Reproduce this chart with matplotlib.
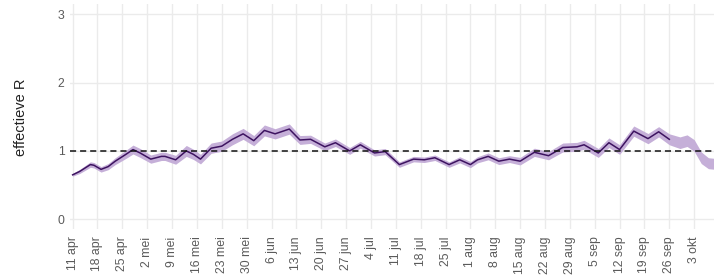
import matplotlib
matplotlib.use("Agg")
import matplotlib.pyplot as plt
import numpy as np
import pandas as pd

# readings of the effective R (line stops at 26 sep, band runs on)
dates = ["2021-04-11", "2021-04-13", "2021-04-16", "2021-04-17", "2021-04-19",
         "2021-04-21", "2021-04-23", "2021-04-26", "2021-04-28", "2021-04-30",
         "2021-05-03", "2021-05-06", "2021-05-07", "2021-05-10", "2021-05-13",
         "2021-05-15", "2021-05-17", "2021-05-20", "2021-05-23", "2021-05-26",
         "2021-05-29", "2021-06-01", "2021-06-04", "2021-06-07", "2021-06-11",
         "2021-06-14", "2021-06-17", "2021-06-21", "2021-06-24", "2021-06-28",
         "2021-07-01", "2021-07-05", "2021-07-08", "2021-07-12", "2021-07-16",
         "2021-07-19", "2021-07-22", "2021-07-26", "2021-07-29", "2021-08-01",
         "2021-08-03", "2021-08-06", "2021-08-09", "2021-08-12", "2021-08-15",
         "2021-08-19", "2021-08-23", "2021-08-27", "2021-08-31", "2021-09-02",
         "2021-09-06", "2021-09-09", "2021-09-12", "2021-09-16", "2021-09-20",
         "2021-09-23", "2021-09-26", "2021-09-29", "2021-10-01", "2021-10-03",
         "2021-10-05", "2021-10-07", "2021-10-09"]

r_center = [0.65, 0.70, 0.80, 0.79, 0.73, 0.77, 0.85, 0.95, 1.02, 0.97,
            0.88, 0.92, 0.92, 0.87, 1.00, 0.95, 0.88, 1.04, 1.07, 1.17,
            1.25, 1.15, 1.30, 1.25, 1.32, 1.16, 1.17, 1.06, 1.12, 1.00,
            1.09, 0.97, 0.99, 0.80, 0.88, 0.87, 0.90, 0.80, 0.87, 0.80,
            0.87, 0.92, 0.85, 0.88, 0.85, 0.98, 0.93, 1.05, 1.06, 1.09,
            0.97, 1.12, 1.02, 1.29, 1.18, 1.28, 1.17, 1.12, 1.15, 1.08,
            0.90, 0.82, 0.81]

# half width of the uncertainty band
r_half = [0.02, 0.03, 0.04, 0.04, 0.04, 0.045, 0.05, 0.06, 0.065, 0.065,
          0.06, 0.06, 0.06, 0.065, 0.08, 0.075, 0.07, 0.075, 0.075, 0.08,
          0.08, 0.075, 0.08, 0.075, 0.075, 0.065, 0.06, 0.055, 0.055, 0.05,
          0.05, 0.045, 0.045, 0.04, 0.04, 0.04, 0.04, 0.04, 0.045, 0.045,
          0.045, 0.05, 0.05, 0.05, 0.055, 0.06, 0.06, 0.065, 0.065, 0.065,
          0.065, 0.07, 0.07, 0.075, 0.075, 0.075, 0.08, 0.085, 0.085, 0.085,
          0.085, 0.08, 0.08]

line_last = "2021-09-26"

tick_dates = ["2021-04-11", "2021-04-18", "2021-04-25", "2021-05-02", "2021-05-09",
              "2021-05-16", "2021-05-23", "2021-05-30", "2021-06-06", "2021-06-13",
              "2021-06-20", "2021-06-27", "2021-07-04", "2021-07-11", "2021-07-18",
              "2021-07-25", "2021-08-01", "2021-08-08", "2021-08-15", "2021-08-22",
              "2021-08-29", "2021-09-05", "2021-09-12", "2021-09-19", "2021-09-26",
              "2021-10-03"]
tick_labels = ["11 apr", "18 apr", "25 apr", "2 mei", "9 mei", "16 mei", "23 mei",
               "30 mei", "6 jun", "13 jun", "20 jun", "27 jun", "4 jul", "11 jul",
               "18 jul", "25 jul", "1 aug", "8 aug", "15 aug", "22 aug", "29 aug",
               "5 sep", "12 sep", "19 sep", "26 sep", "3 okt"]

plt.rcParams["font.family"] = ["Liberation Sans", "DejaVu Sans"]

x = pd.to_datetime(dates)
xt = pd.to_datetime(tick_dates)
mid = np.array(r_center)
half = np.array(r_half)
on_line = x <= pd.Timestamp(line_last)

fig = plt.figure(figsize=(7.14, 2.77), dpi=100)
ax = fig.add_axes([0.098, 0.1715, 0.902, 0.814])

ax.fill_between(x, mid - half, mid + half, color="#c5afd8", linewidth=0, zorder=2)
ax.plot(x[on_line], mid[on_line], color="#3d1360", linewidth=1.1,
        solid_joinstyle="round", zorder=3)
ax.axhline(1, color="#111111", linewidth=1.1, dashes=(4, 2.6), zorder=4)

ax.set_xlim(pd.Timestamp("2021-04-10 06:00"), pd.Timestamp("2021-10-08 14:00"))
ax.set_ylim(-0.15, 3.15)
ax.set_yticks([0, 1, 2, 3])
ax.set_xticks(xt)
ax.set_xticklabels(tick_labels, rotation=90, ha="center", va="top")

ax.grid(True, color="#ebebeb", linewidth=1.0, zorder=0)
ax.set_axisbelow(True)
for s in ax.spines.values():
    s.set_visible(False)
ax.tick_params(length=0, labelsize=8.8, labelcolor="#5a5a5a", pad=4)
ax.tick_params(axis="x", pad=5)

ax.set_ylabel("effectieve R", fontsize=10.5, color="#222222", labelpad=21)

fig.savefig("out.png", dpi=100)
